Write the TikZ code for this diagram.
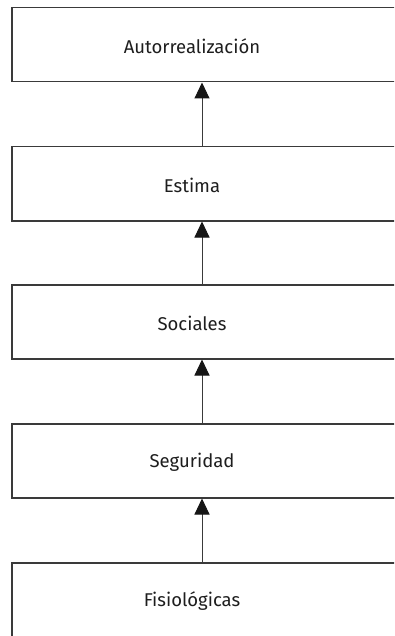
\documentclass[tikz,border=0pt]{standalone}
\usepackage{fontspec}
\setmainfont{Fira Sans}
\usetikzlibrary{arrows.meta}
\definecolor{edge}{HTML}{3A3A3A}
\definecolor{ink}{HTML}{1E1E1E}
\definecolor{tip}{HTML}{161616}
\begin{document}
\begin{tikzpicture}[x=1pt,y=1pt,
  level/.style={draw=edge,line width=1.5pt,rectangle,minimum width=420pt,minimum height=74pt,anchor=north west,inner sep=0pt},
  tag/.style={text=ink,font=\fontsize{18.5}{22}\selectfont},
  up/.style={draw=edge,line width=1pt,-{Triangle[length=16pt,width=15pt,fill=tip,color=tip]}}]
\useasboundingbox (0,0) rectangle (394,-636);
\fill[white] (0,0) rectangle (394,-636);
\clip (0,0) rectangle (394,-636);
% stacked levels, from top to bottom
\node[level] (b1) at (11,-7) {};
\node[level] (b2) at (11,-146) {};
\node[level] (b3) at (11,-284) {};
\node[level] (b4) at (11,-423) {};
\node[level] (b5) at (11,-562) {};
% labels
\node[tag] (t1) at (192,-46) {Autorrealización};
\node[tag] (t2) at (192,-185) {Estima};
\node[tag] (t3) at (192,-323) {Sociales};
\node[tag] (t4) at (192,-462) {Seguridad};
\node[tag] (t5) at (192,-601) {Fisiológicas};
% arrows run up the column at x = 202
\coordinate (ax) at (202,0);
\draw[up] (b5.north -| ax) -- (b4.south -| ax);
\draw[up] (b4.north -| ax) -- (b3.south -| ax);
\draw[up] (b3.north -| ax) -- (b2.south -| ax);
\draw[up] (b2.north -| ax) -- (b1.south -| ax);
\end{tikzpicture}
\end{document}
